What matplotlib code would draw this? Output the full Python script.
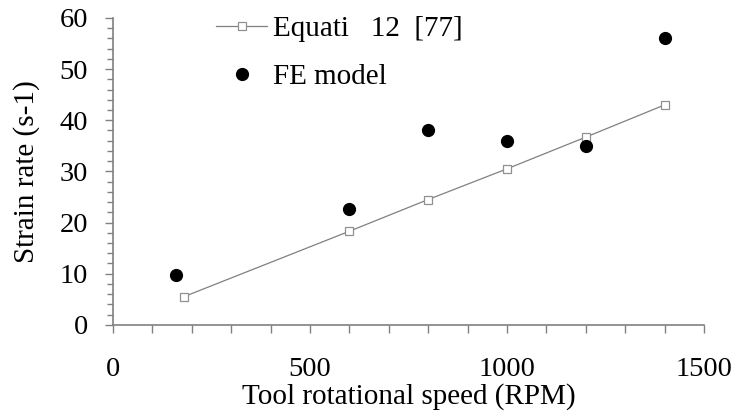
import matplotlib
matplotlib.use("Agg")
import matplotlib.pyplot as plt
from matplotlib.ticker import MultipleLocator

plt.rcParams['font.family'] = ['Liberation Serif', 'DejaVu Serif']

eq_x = [180, 600, 800, 1000, 1200, 1400]
eq_y = [5.5, 18.3, 24.5, 30.5, 36.7, 43.0]
fe_x = [160, 600, 800, 1000, 1200, 1400]
fe_y = [9.8, 22.6, 38.0, 36.0, 35.0, 56.0]
eq_label = "Equati   12  [77]"
fe_label = "FE model"
xlabel = "Tool rotational speed (RPM)"
ylabel = "Strain rate (s-1)"

fig = plt.figure(figsize=(7.38, 4.17), dpi=100)
ax = fig.add_axes([0.153, 0.221, 0.801, 0.736])

ax.plot(eq_x, eq_y, color='#808080', lw=0.9, marker='s', markersize=6,
        markerfacecolor='white', markeredgecolor='#909090', markeredgewidth=0.9,
        label=eq_label)
ax.plot(fe_x, fe_y, linestyle='none', marker='o', markersize=8.5,
        color='black', label=fe_label)

ax.set_xlim(0, 1500)
ax.set_ylim(0, 60)
ax.xaxis.set_major_locator(MultipleLocator(500))
ax.xaxis.set_minor_locator(MultipleLocator(100))
ax.yaxis.set_major_locator(MultipleLocator(10))
ax.yaxis.set_minor_locator(MultipleLocator(2))

for s in ['top', 'right']:
    ax.spines[s].set_visible(False)
for s in ['left', 'bottom']:
    ax.spines[s].set_color('#808080')
    ax.spines[s].set_linewidth(1.2)

ax.tick_params(axis='both', which='both', color='#808080', width=1.0,
               direction='out', labelsize=20.5, labelcolor='black')
ax.tick_params(axis='x', which='both', length=5.8)
ax.tick_params(axis='y', which='major', length=5.8)
ax.tick_params(axis='y', which='minor', length=4)
ax.tick_params(axis='x', pad=17)
ax.tick_params(axis='y', pad=12)

ax.set_xlabel(xlabel, fontsize=21, labelpad=1)
ax.set_ylabel(ylabel, fontsize=21, labelpad=14)

leg = ax.legend(loc='upper left', bbox_to_anchor=(0.13, 1.092), frameon=False,
                fontsize=21, handlelength=1.75, handletextpad=0.2,
                labelspacing=0.73)

fig.savefig("out.png", dpi=100)
